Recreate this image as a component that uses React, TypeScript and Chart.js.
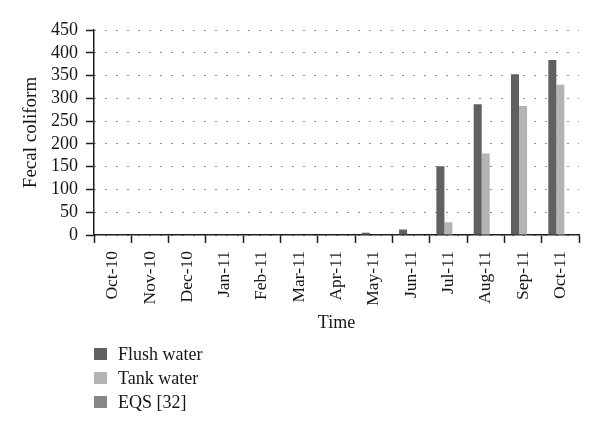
import React, { useEffect, useRef } from "react";
import { Chart, registerables } from "chart.js";

Chart.register(...registerables);

const categories = [
  "Oct-10", "Nov-10", "Dec-10", "Jan-11", "Feb-11", "Mar-11", "Apr-11",
  "May-11", "Jun-11", "Jul-11", "Aug-11", "Sep-11", "Oct-11",
];
const flushWater = [1, 0, 0, 0, 0, 0, 0, 5, 12, 151, 287, 353, 384];
const tankWater = [0, 0, 0, 0, 0, 0, 0, 0, 0, 28, 179, 283, 330];
const eqs = [0, 0, 0, 0, 0, 0, 0, 0, 0, 0, 0, 0, 0];
const seriesNames = ["Flush water", "Tank water", "EQS [32]"];
const seriesColors = ["#606060", "#b4b4b4", "#868686"];

const FONT = "'Liberation Serif', 'Times New Roman', serif";
const TEXT = "#161616";
const AXIS = "#1e1e1e";

const legendPlugin = {
  id: "stackedLegend",
  afterDraw(chart: any) {
    const ctx = chart.ctx;
    const left = chart.chartArea.left;
    const y0 = chart.scales.x.bottom + 14;
    ctx.save();
    ctx.font = `18px ${FONT}`;
    ctx.textBaseline = "middle";
    ctx.textAlign = "left";
    chart.data.datasets.forEach((ds: any, i: number) => {
      const cy = y0 + i * 24;
      ctx.fillStyle = ds.backgroundColor;
      ctx.fillRect(left, cy - 6, 13, 12);
      ctx.fillStyle = TEXT;
      ctx.fillText(ds.label, left + 24, cy + 1);
    });
    ctx.restore();
  },
};

export default function App() {
  const ref = useRef<HTMLCanvasElement | null>(null);

  useEffect(() => {
    if (!ref.current) return;
    const chart = new Chart(ref.current, {
      type: "bar",
      data: {
        labels: categories,
        datasets: [
          { label: seriesNames[0], data: flushWater, backgroundColor: seriesColors[0] },
          { label: seriesNames[1], data: tankWater, backgroundColor: seriesColors[1] },
          { label: seriesNames[2], data: eqs, backgroundColor: seriesColors[2] },
        ],
      },
      options: {
        responsive: false,
        animation: false,
        devicePixelRatio: 1,
        datasets: { bar: { categoryPercentage: 0.645, barPercentage: 1.0 } },
        layout: { padding: { top: 30, right: 21, left: 0, bottom: 96 } },
        plugins: {
          legend: { display: false },
          tooltip: { enabled: false },
        },
        scales: {
          x: {
            afterFit: (s: any) => { s.height = 105; },
            grid: {
              drawOnChartArea: false,
              tickLength: 8,
              tickColor: AXIS,
              tickWidth: 1.5,
            },
            border: { color: AXIS, width: 1.5 },
            ticks: {
              autoSkip: false,
              minRotation: 90,
              maxRotation: 90,
              padding: 8,
              color: TEXT,
              font: { family: FONT, size: 17.5 },
            },
            title: {
              display: true,
              text: "Time",
              color: TEXT,
              font: { family: FONT, size: 18 },
              padding: { top: 0, bottom: 6 },
            },
          },
          y: {
            min: 0,
            max: 450,
            afterFit: (s: any) => { s.width = 94; },
            ticks: {
              stepSize: 50,
              autoSkip: false,
              padding: 8,
              color: TEXT,
              font: { family: FONT, size: 18 },
            },
            grid: {
              color: "#222222",
              lineWidth: 1,
              tickLength: 8,
              tickColor: AXIS,
              tickWidth: 1.5,
            },
            border: { color: AXIS, width: 1.5, dash: [1, 10] },
            title: {
              display: true,
              text: "Fecal coliform",
              color: TEXT,
              font: { family: FONT, size: 19 },
              padding: { top: 20, bottom: 0 },
            },
          },
        },
      },
      plugins: [legendPlugin],
    });
    return () => chart.destroy();
  }, []);

  return (
    <div style={{ position: "fixed", left: 0, top: 0, width: 600, height: 436, background: "#fff" }}>
      <canvas ref={ref} width={600} height={436} />
    </div>
  );
}
